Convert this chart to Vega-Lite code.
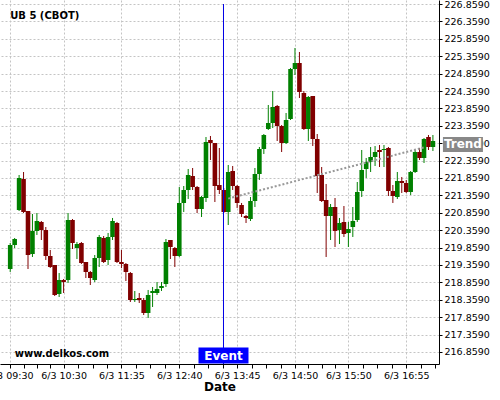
{
  "$schema": "https://vega.github.io/schema/vega-lite/v6.json",
  "width": 439,
  "height": 364,
  "autosize": {"type": "none"},
  "padding": {"left": 0, "top": 0, "right": 61, "bottom": 36},
  "background": "white",
  "config": {"view": {"stroke": null}, "scale": {"continuousPadding": 0}},
  "datasets": {
    "candles": [
      {"t":"2024-06-03T09:30","o":219.244,"h":219.991,"l":219.158,"c":219.934},
      {"t":"2024-06-03T09:35","o":219.934,"h":220.135,"l":219.847,"c":220.106},
      {"t":"2024-06-03T09:40","o":220.939,"h":221.945,"l":220.911,"c":221.859},
      {"t":"2024-06-03T09:45","o":221.830,"h":222.031,"l":220.853,"c":220.882},
      {"t":"2024-06-03T09:50","o":220.911,"h":220.911,"l":219.244,"c":219.646},
      {"t":"2024-06-03T09:55","o":219.675,"h":220.824,"l":219.589,"c":220.336},
      {"t":"2024-06-03T10:00","o":220.336,"h":220.853,"l":220.221,"c":220.623},
      {"t":"2024-06-03T10:05","o":220.595,"h":220.623,"l":220.077,"c":220.365},
      {"t":"2024-06-03T10:10","o":220.365,"h":220.451,"l":219.503,"c":219.618},
      {"t":"2024-06-03T10:15","o":219.618,"h":219.790,"l":219.273,"c":219.301},
      {"t":"2024-06-03T10:20","o":219.359,"h":219.359,"l":218.468,"c":218.497},
      {"t":"2024-06-03T10:25","o":218.526,"h":219.129,"l":218.439,"c":218.928},
      {"t":"2024-06-03T10:30","o":218.928,"h":218.957,"l":218.554,"c":218.870},
      {"t":"2024-06-03T10:35","o":218.928,"h":220.853,"l":218.842,"c":220.652},
      {"t":"2024-06-03T10:40","o":220.652,"h":220.681,"l":219.819,"c":219.991},
      {"t":"2024-06-03T10:45","o":219.847,"h":220.020,"l":219.531,"c":219.962},
      {"t":"2024-06-03T10:50","o":219.991,"h":220.020,"l":219.388,"c":219.416},
      {"t":"2024-06-03T10:55","o":219.445,"h":219.445,"l":218.985,"c":219.158},
      {"t":"2024-06-03T11:00","o":219.158,"h":219.187,"l":218.784,"c":218.985},
      {"t":"2024-06-03T11:05","o":218.928,"h":219.646,"l":218.870,"c":219.560},
      {"t":"2024-06-03T11:10","o":219.560,"h":220.221,"l":219.301,"c":220.164},
      {"t":"2024-06-03T11:15","o":220.135,"h":220.192,"l":219.416,"c":219.445},
      {"t":"2024-06-03T11:20","o":219.503,"h":220.279,"l":219.359,"c":220.164},
      {"t":"2024-06-03T11:25","o":220.164,"h":220.710,"l":220.077,"c":220.623},
      {"t":"2024-06-03T11:30","o":220.566,"h":220.595,"l":219.416,"c":219.445},
      {"t":"2024-06-03T11:35","o":219.445,"h":219.790,"l":219.273,"c":219.388},
      {"t":"2024-06-03T11:40","o":219.388,"h":219.416,"l":218.899,"c":219.158},
      {"t":"2024-06-03T11:45","o":219.129,"h":219.158,"l":218.296,"c":218.353},
      {"t":"2024-06-03T11:50","o":218.353,"h":218.612,"l":218.296,"c":218.382},
      {"t":"2024-06-03T11:55","o":218.411,"h":218.554,"l":218.267,"c":218.353},
      {"t":"2024-06-03T12:00","o":218.353,"h":218.411,"l":217.922,"c":217.980},
      {"t":"2024-06-03T12:05","o":217.980,"h":218.641,"l":217.836,"c":218.497},
      {"t":"2024-06-03T12:10","o":218.554,"h":218.727,"l":218.152,"c":218.612},
      {"t":"2024-06-03T12:15","o":218.554,"h":218.870,"l":218.497,"c":218.669},
      {"t":"2024-06-03T12:20","o":218.698,"h":218.870,"l":218.612,"c":218.756},
      {"t":"2024-06-03T12:25","o":218.813,"h":220.106,"l":218.727,"c":220.020},
      {"t":"2024-06-03T12:30","o":220.077,"h":220.077,"l":219.531,"c":219.876},
      {"t":"2024-06-03T12:35","o":219.847,"h":219.876,"l":219.301,"c":219.618},
      {"t":"2024-06-03T12:40","o":219.618,"h":221.600,"l":219.590,"c":221.141},
      {"t":"2024-06-03T12:45","o":221.141,"h":221.629,"l":220.882,"c":221.514},
      {"t":"2024-06-03T12:50","o":221.514,"h":222.118,"l":221.256,"c":221.945},
      {"t":"2024-06-03T12:55","o":221.916,"h":222.146,"l":221.514,"c":221.600},
      {"t":"2024-06-03T13:00","o":221.600,"h":221.629,"l":220.853,"c":220.968},
      {"t":"2024-06-03T13:05","o":220.968,"h":221.342,"l":220.738,"c":221.313},
      {"t":"2024-06-03T13:10","o":221.284,"h":223.037,"l":221.169,"c":222.893},
      {"t":"2024-06-03T13:15","o":222.951,"h":223.066,"l":222.376,"c":222.865},
      {"t":"2024-06-03T13:20","o":222.865,"h":222.865,"l":221.169,"c":221.629},
      {"t":"2024-06-03T13:25","o":221.658,"h":222.721,"l":221.399,"c":221.514},
      {"t":"2024-06-03T13:30","o":221.514,"h":221.572,"l":220.853,"c":220.882},
      {"t":"2024-06-03T13:35","o":220.882,"h":222.233,"l":220.508,"c":222.031},
      {"t":"2024-06-03T13:40","o":222.060,"h":222.204,"l":221.514,"c":221.629},
      {"t":"2024-06-03T13:45","o":221.629,"h":221.658,"l":220.997,"c":221.141},
      {"t":"2024-06-03T13:50","o":221.083,"h":221.141,"l":220.738,"c":220.824},
      {"t":"2024-06-03T13:55","o":220.767,"h":220.796,"l":220.566,"c":220.710},
      {"t":"2024-06-03T14:00","o":220.681,"h":221.313,"l":220.623,"c":221.198},
      {"t":"2024-06-03T14:05","o":221.198,"h":222.146,"l":221.026,"c":221.974},
      {"t":"2024-06-03T14:10","o":221.974,"h":222.750,"l":221.802,"c":222.692},
      {"t":"2024-06-03T14:15","o":222.692,"h":223.123,"l":222.549,"c":223.095},
      {"t":"2024-06-03T14:20","o":223.267,"h":223.957,"l":223.238,"c":223.439},
      {"t":"2024-06-03T14:25","o":223.439,"h":224.359,"l":223.296,"c":223.899},
      {"t":"2024-06-03T14:30","o":223.928,"h":223.957,"l":222.922,"c":223.353},
      {"t":"2024-06-03T14:35","o":223.353,"h":223.382,"l":222.606,"c":222.865},
      {"t":"2024-06-03T14:40","o":222.865,"h":223.727,"l":222.836,"c":223.526},
      {"t":"2024-06-03T14:45","o":223.554,"h":225.020,"l":223.526,"c":224.991},
      {"t":"2024-06-03T14:50","o":224.991,"h":225.595,"l":224.819,"c":225.164},
      {"t":"2024-06-03T14:55","o":225.164,"h":225.480,"l":224.158,"c":224.330},
      {"t":"2024-06-03T15:00","o":224.302,"h":224.359,"l":223.238,"c":223.267},
      {"t":"2024-06-03T15:05","o":223.267,"h":224.215,"l":222.922,"c":224.187},
      {"t":"2024-06-03T15:10","o":224.215,"h":224.215,"l":222.778,"c":222.980},
      {"t":"2024-06-03T15:15","o":222.980,"h":223.123,"l":221.428,"c":221.916},
      {"t":"2024-06-03T15:20","o":221.945,"h":222.175,"l":221.169,"c":221.198},
      {"t":"2024-06-03T15:25","o":221.227,"h":221.687,"l":219.589,"c":220.767},
      {"t":"2024-06-03T15:30","o":220.767,"h":221.112,"l":220.077,"c":221.026},
      {"t":"2024-06-03T15:35","o":221.026,"h":221.284,"l":219.876,"c":220.336},
      {"t":"2024-06-03T15:40","o":220.365,"h":220.710,"l":219.962,"c":220.566},
      {"t":"2024-06-03T15:45","o":220.595,"h":221.054,"l":220.164,"c":220.250},
      {"t":"2024-06-03T15:50","o":220.279,"h":220.595,"l":219.876,"c":220.393},
      {"t":"2024-06-03T15:55","o":220.451,"h":221.026,"l":220.164,"c":220.623},
      {"t":"2024-06-03T16:00","o":220.652,"h":221.744,"l":220.595,"c":221.457},
      {"t":"2024-06-03T16:05","o":221.485,"h":222.664,"l":221.313,"c":222.089},
      {"t":"2024-06-03T16:10","o":222.118,"h":222.434,"l":221.859,"c":222.319},
      {"t":"2024-06-03T16:15","o":222.319,"h":222.750,"l":222.031,"c":222.462},
      {"t":"2024-06-03T16:20","o":222.462,"h":222.778,"l":222.204,"c":222.606},
      {"t":"2024-06-03T16:25","o":222.664,"h":222.807,"l":222.175,"c":222.606},
      {"t":"2024-06-03T16:30","o":222.664,"h":222.807,"l":222.175,"c":222.692},
      {"t":"2024-06-03T16:35","o":222.721,"h":222.750,"l":221.342,"c":221.485},
      {"t":"2024-06-03T16:40","o":221.485,"h":221.658,"l":221.141,"c":221.342},
      {"t":"2024-06-03T16:45","o":221.313,"h":222.031,"l":221.256,"c":221.773},
      {"t":"2024-06-03T16:50","o":221.773,"h":221.888,"l":221.428,"c":221.715},
      {"t":"2024-06-03T16:55","o":221.715,"h":221.802,"l":221.428,"c":221.457},
      {"t":"2024-06-03T17:00","o":221.457,"h":222.060,"l":221.370,"c":222.031},
      {"t":"2024-06-03T17:05","o":222.031,"h":222.664,"l":222.003,"c":222.606},
      {"t":"2024-06-03T17:10","o":222.606,"h":222.721,"l":222.376,"c":222.434},
      {"t":"2024-06-03T17:15","o":222.434,"h":223.008,"l":222.290,"c":222.980},
      {"t":"2024-06-03T17:20","o":223.037,"h":223.095,"l":222.664,"c":222.750},
      {"t":"2024-06-03T17:25","o":222.750,"h":223.095,"l":222.635,"c":222.922}
    ],
    "trend": [
      {"t":"2024-06-03T13:35","p":221.267},
      {"t":"2024-06-03T17:15","p":222.738}
    ],
    "events": [
      {"t":"2024-06-03T13:29:40","label":"Event"}
    ]
  },
  "layer": [
    {
      "data": {"name": "candles"},
      "mark": {"type": "rule", "strokeWidth": 1},
      "encoding": {
        "x": {
          "field": "t", "type": "temporal",
          "scale": {"padding": 0, "domain": [
            {"year":2024,"month":6,"date":3,"hours":9,"minutes":18,"seconds":32},
            {"year":2024,"month":6,"date":3,"hours":17,"minutes":31,"seconds":50}
          ]},
          "axis": {
            "title": "Date",
            "titleFont": "DejaVu Sans", "titleFontSize": 12, "titleFontWeight": "bold", "titleColor": "black", "titlePadding": 2,
            "tickCount": 200,
            "values": [
              {"year":2024,"month":6,"date":3,"hours":9,"minutes":30},
              {"year":2024,"month":6,"date":3,"hours":9,"minutes":45},
              {"year":2024,"month":6,"date":3,"hours":10,"minutes":0},
              {"year":2024,"month":6,"date":3,"hours":10,"minutes":15},
              {"year":2024,"month":6,"date":3,"hours":10,"minutes":30},
              {"year":2024,"month":6,"date":3,"hours":10,"minutes":46,"seconds":15},
              {"year":2024,"month":6,"date":3,"hours":11,"minutes":2,"seconds":30},
              {"year":2024,"month":6,"date":3,"hours":11,"minutes":18,"seconds":45},
              {"year":2024,"month":6,"date":3,"hours":11,"minutes":35},
              {"year":2024,"month":6,"date":3,"hours":11,"minutes":51,"seconds":15},
              {"year":2024,"month":6,"date":3,"hours":12,"minutes":7,"seconds":30},
              {"year":2024,"month":6,"date":3,"hours":12,"minutes":23,"seconds":45},
              {"year":2024,"month":6,"date":3,"hours":12,"minutes":40},
              {"year":2024,"month":6,"date":3,"hours":12,"minutes":56,"seconds":15},
              {"year":2024,"month":6,"date":3,"hours":13,"minutes":12,"seconds":30},
              {"year":2024,"month":6,"date":3,"hours":13,"minutes":28,"seconds":45},
              {"year":2024,"month":6,"date":3,"hours":13,"minutes":45},
              {"year":2024,"month":6,"date":3,"hours":14,"minutes":1,"seconds":15},
              {"year":2024,"month":6,"date":3,"hours":14,"minutes":17,"seconds":30},
              {"year":2024,"month":6,"date":3,"hours":14,"minutes":33,"seconds":45},
              {"year":2024,"month":6,"date":3,"hours":14,"minutes":50},
              {"year":2024,"month":6,"date":3,"hours":15,"minutes":5},
              {"year":2024,"month":6,"date":3,"hours":15,"minutes":20},
              {"year":2024,"month":6,"date":3,"hours":15,"minutes":35},
              {"year":2024,"month":6,"date":3,"hours":15,"minutes":50},
              {"year":2024,"month":6,"date":3,"hours":16,"minutes":6,"seconds":15},
              {"year":2024,"month":6,"date":3,"hours":16,"minutes":22,"seconds":30},
              {"year":2024,"month":6,"date":3,"hours":16,"minutes":38,"seconds":45},
              {"year":2024,"month":6,"date":3,"hours":16,"minutes":55},
              {"year":2024,"month":6,"date":3,"hours":17,"minutes":11,"seconds":15},
              {"year":2024,"month":6,"date":3,"hours":17,"minutes":27,"seconds":30}
            ],
            "labelExpr": "indexof(['09:30','10:30','11:35','12:40','13:45','14:50','15:50','16:55'], timeFormat(datum.value, '%H:%M')) >= 0 ? timeFormat(datum.value, '%-m/%-d %H:%M') : ''",
            "labelFont": "DejaVu Sans", "labelFontSize": 9.5, "labelColor": "black", "labelPadding": 2,
            "labelFlush": false, "labelOverlap": false, "labelBound": false,
            "tickSize": 4, "tickColor": "black", "domainColor": "black",
            "grid": true, "gridColor": "#c4c4c4", "gridDash": [2, 2],
            "gridOpacity": {"condition": {"test": "indexof(['09:30','10:30','11:35','12:40','13:45','14:50','15:50','16:55'], timeFormat(datum.value, '%H:%M')) >= 0", "value": 1}, "value": 0}
          }
        },
        "y": {
          "field": "l", "type": "quantitative",
          "scale": {"domain": [216.514, 226.974], "zero": false, "nice": false, "padding": 0},
          "axis": {
            "orient": "right", "title": null,
            "tickCount": 200,
            "values": [216.859, 217.359, 217.859, 218.359, 218.859, 219.359, 219.859, 220.359, 220.859, 221.359, 221.859, 222.359, 222.859, 223.359, 223.859, 224.359, 224.859, 225.359, 225.859, 226.359, 226.859],
            "format": ".4f",
            "labelFont": "DejaVu Sans", "labelFontSize": 9.5, "labelColor": "black", "labelPadding": 2,
            "labelFlush": false, "labelOverlap": false, "labelBound": false,
            "tickSize": 3, "tickColor": "black", "domainColor": "black",
            "grid": true, "gridColor": "#c4c4c4", "gridDash": [2, 2]
          }
        },
        "y2": {"field": "h"},
        "color": {"condition": {"test": "datum.c >= datum.o", "value": "#008000"}, "value": "#800000"}
      }
    },
    {
      "data": {"name": "candles"},
      "mark": {"type": "bar", "width": 4.6},
      "encoding": {
        "x": {"field": "t", "type": "temporal", "scale": {"padding": 0, "domain": [{"year":2024,"month":6,"date":3,"hours":9,"minutes":18,"seconds":32}, {"year":2024,"month":6,"date":3,"hours":17,"minutes":31,"seconds":50}]}},
        "y": {"field": "o", "type": "quantitative", "scale": {"domain": [216.514, 226.974], "zero": false, "nice": false, "padding": 0}},
        "y2": {"field": "c"},
        "color": {"condition": {"test": "datum.c >= datum.o", "value": "#008000"}, "value": "#800000"}
      }
    },
    {
      "data": {"name": "trend"},
      "mark": {"type": "line", "color": "#999999", "strokeWidth": 2, "strokeDash": [2, 2]},
      "encoding": {
        "x": {"field": "t", "type": "temporal", "scale": {"padding": 0, "domain": [{"year":2024,"month":6,"date":3,"hours":9,"minutes":18,"seconds":32}, {"year":2024,"month":6,"date":3,"hours":17,"minutes":31,"seconds":50}]}},
        "y": {"field": "p", "type": "quantitative", "scale": {"domain": [216.514, 226.974], "zero": false, "nice": false, "padding": 0}}
      }
    },
    {
      "data": {"name": "events"},
      "mark": {"type": "rule", "color": "#0000e6", "strokeWidth": 1},
      "encoding": {
        "x": {"field": "t", "type": "temporal", "scale": {"padding": 0, "domain": [{"year":2024,"month":6,"date":3,"hours":9,"minutes":18,"seconds":32}, {"year":2024,"month":6,"date":3,"hours":17,"minutes":31,"seconds":50}]}},
        "y": {"datum": 226.859, "scale": {"domain": [216.514, 226.974], "zero": false, "nice": false, "padding": 0}},
        "y2": {"datum": 216.514}
      }
    },
    {
      "data": {"name": "events"},
      "mark": {"type": "point", "shape": "M-1,-0.32H1V0.32H-1Z", "size": 2500, "filled": true, "color": "#0000ff", "opacity": 1, "strokeWidth": 0},
      "encoding": {
        "x": {"field": "t", "type": "temporal", "scale": {"padding": 0, "domain": [{"year":2024,"month":6,"date":3,"hours":9,"minutes":18,"seconds":32}, {"year":2024,"month":6,"date":3,"hours":17,"minutes":31,"seconds":50}]}},
        "y": {"datum": 216.758, "scale": {"domain": [216.514, 226.974], "zero": false, "nice": false, "padding": 0}}
      }
    },
    {
      "data": {"name": "events"},
      "mark": {"type": "text", "color": "white", "font": "DejaVu Sans", "fontSize": 12, "fontWeight": "bold", "align": "center", "baseline": "middle"},
      "encoding": {
        "x": {"field": "t", "type": "temporal", "scale": {"padding": 0, "domain": [{"year":2024,"month":6,"date":3,"hours":9,"minutes":18,"seconds":32}, {"year":2024,"month":6,"date":3,"hours":17,"minutes":31,"seconds":50}]}},
        "y": {"datum": 216.758, "scale": {"domain": [216.514, 226.974], "zero": false, "nice": false, "padding": 0}},
        "text": {"field": "label"}
      }
    },
    {
      "data": {"name": "events"},
      "mark": {"type": "point", "shape": "M-1,-0.375H1V0.375H-1Z", "size": 1600, "filled": true, "color": "#888888", "opacity": 1, "strokeWidth": 0},
      "encoding": {
        "x": {"datum": {"year":2024,"month":6,"date":3,"hours":17,"minutes":58,"seconds":44}, "type": "temporal", "scale": {"padding": 0, "domain": [{"year":2024,"month":6,"date":3,"hours":9,"minutes":18,"seconds":32}, {"year":2024,"month":6,"date":3,"hours":17,"minutes":31,"seconds":50}]}},
        "y": {"datum": 222.822, "scale": {"domain": [216.514, 226.974], "zero": false, "nice": false, "padding": 0}}
      }
    },
    {
      "data": {"name": "events"},
      "mark": {"type": "text", "text": "Trend", "color": "white", "font": "DejaVu Sans", "fontSize": 12, "fontWeight": "bold", "align": "center", "baseline": "middle"},
      "encoding": {
        "x": {"datum": {"year":2024,"month":6,"date":3,"hours":17,"minutes":58,"seconds":44}, "type": "temporal", "scale": {"padding": 0, "domain": [{"year":2024,"month":6,"date":3,"hours":9,"minutes":18,"seconds":32}, {"year":2024,"month":6,"date":3,"hours":17,"minutes":31,"seconds":50}]}},
        "y": {"datum": 222.822, "scale": {"domain": [216.514, 226.974], "zero": false, "nice": false, "padding": 0}}
      }
    },
    {
      "data": {"name": "events"},
      "mark": {"type": "text", "text": "UB 5 (CBOT)", "color": "black", "font": "DejaVu Sans", "fontSize": 10, "fontWeight": "bold", "align": "left", "baseline": "alphabetic"},
      "encoding": {
        "x": {"datum": {"year":2024,"month":6,"date":3,"hours":9,"minutes":30}, "type": "temporal", "scale": {"padding": 0, "domain": [{"year":2024,"month":6,"date":3,"hours":9,"minutes":18,"seconds":32}, {"year":2024,"month":6,"date":3,"hours":17,"minutes":31,"seconds":50}]}},
        "y": {"datum": 226.43, "scale": {"domain": [216.514, 226.974], "zero": false, "nice": false, "padding": 0}}
      }
    },
    {
      "data": {"name": "events"},
      "mark": {"type": "text", "text": "www.delkos.com", "color": "black", "font": "DejaVu Sans", "fontSize": 10, "fontWeight": "bold", "align": "left", "baseline": "alphabetic"},
      "encoding": {
        "x": {"datum": {"year":2024,"month":6,"date":3,"hours":9,"minutes":35}, "type": "temporal", "scale": {"padding": 0, "domain": [{"year":2024,"month":6,"date":3,"hours":9,"minutes":18,"seconds":32}, {"year":2024,"month":6,"date":3,"hours":17,"minutes":31,"seconds":50}]}},
        "y": {"datum": 216.715, "scale": {"domain": [216.514, 226.974], "zero": false, "nice": false, "padding": 0}}
      }
    }
  ]
}
